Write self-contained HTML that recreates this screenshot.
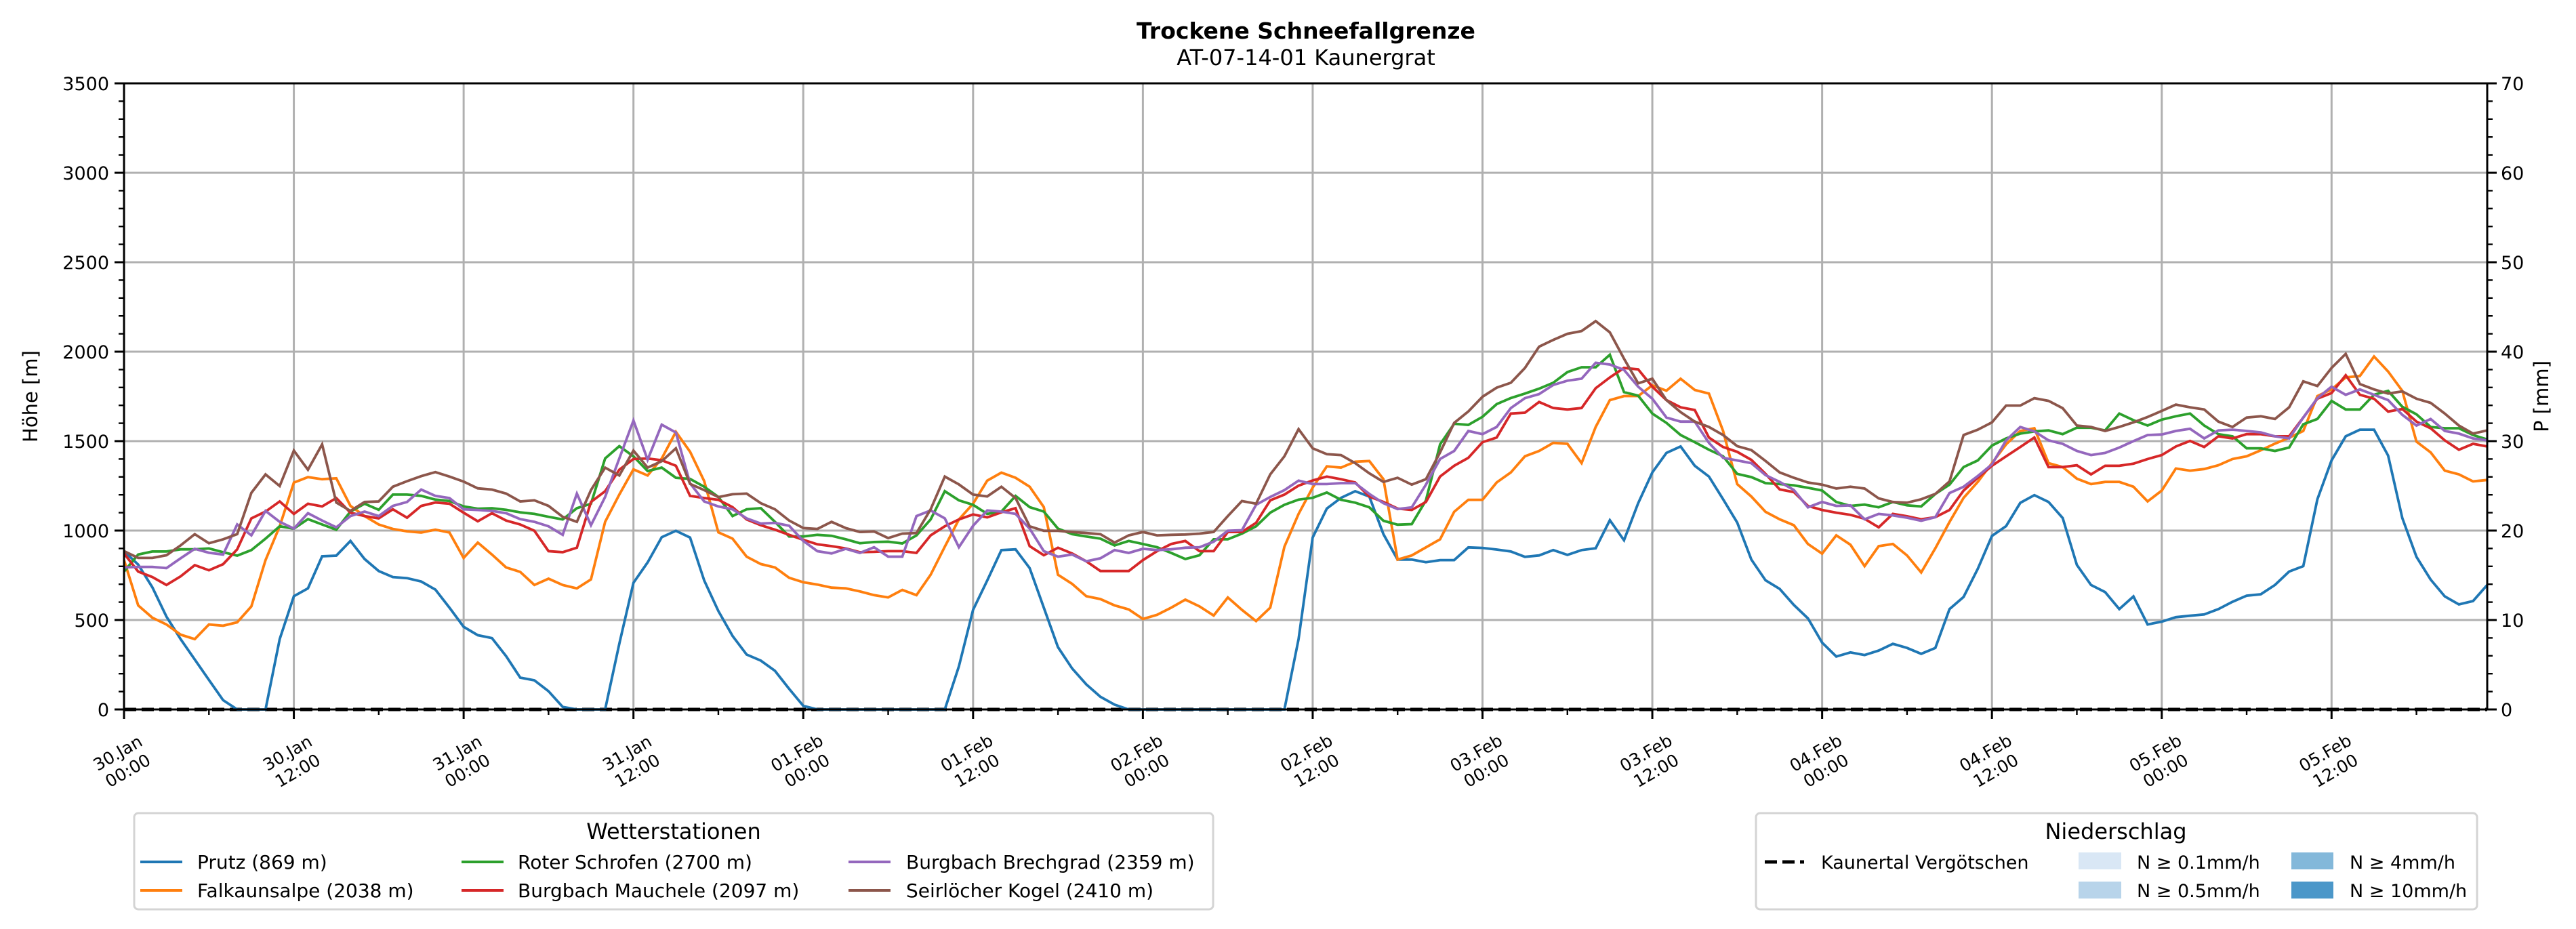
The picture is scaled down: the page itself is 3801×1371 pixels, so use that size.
<!DOCTYPE html>
<html><head><meta charset="utf-8">
<style>
html,body{margin:0;padding:0;background:#fff;}
svg{display:block;font-family:"DejaVu Sans","Liberation Sans",sans-serif;}
</style></head>
<body>
<svg id="chart" xmlns="http://www.w3.org/2000/svg" width="3801" height="1371" viewBox="0 0 3801 1371">
<rect x="0" y="0" width="3801" height="1371" fill="#fff"/>
<text x="1927" y="57" text-anchor="middle" font-size="33" font-weight="bold">Trockene Schneefallgrenze</text>
<text x="1927" y="96" text-anchor="middle" font-size="32">AT-07-14-01 Kaunergrat</text>
<text transform="translate(55,585) rotate(-90)" text-anchor="middle" font-size="29">Höhe [m]</text>
<text transform="translate(3760,585) rotate(-90)" text-anchor="middle" font-size="29">P [mm]</text>
<g id="grid"></g>
<g id="series"></g>
<g id="axes"></g>

<g>
<rect x="198" y="1200" width="1592" height="142" rx="6" fill="#fff" stroke="#d4d4d4" stroke-width="3"/>
<text x="994" y="1238" text-anchor="middle" font-size="32">Wetterstationen</text>
<line x1="207" y1="1272" x2="269" y2="1272" stroke="#1f77b4" stroke-width="4"/>
<text x="291" y="1282" font-size="28">Prutz (869 m)</text>
<line x1="207" y1="1314" x2="269" y2="1314" stroke="#ff7f0e" stroke-width="4"/>
<text x="291" y="1324" font-size="28">Falkaunsalpe (2038 m)</text>
<line x1="681" y1="1272" x2="743" y2="1272" stroke="#2ca02c" stroke-width="4"/>
<text x="764" y="1282" font-size="28">Roter Schrofen (2700 m)</text>
<line x1="681" y1="1314" x2="743" y2="1314" stroke="#d62728" stroke-width="4"/>
<text x="764" y="1324" font-size="28">Burgbach Mauchele (2097 m)</text>
<line x1="1252" y1="1272" x2="1314" y2="1272" stroke="#9467bd" stroke-width="4"/>
<text x="1337" y="1282" font-size="28">Burgbach Brechgrad (2359 m)</text>
<line x1="1252" y1="1314" x2="1314" y2="1314" stroke="#8c564b" stroke-width="4"/>
<text x="1337" y="1324" font-size="28">Seirlöcher Kogel (2410 m)</text>
</g>

<g>
<rect x="2591" y="1200" width="1064" height="142" rx="6" fill="#fff" stroke="#d4d4d4" stroke-width="3"/>
<text x="3122" y="1238" text-anchor="middle" font-size="32">Niederschlag</text>
<line x1="2604" y1="1272" x2="2662" y2="1272" stroke="#000" stroke-width="5" stroke-dasharray="18,8"/>
<text x="2687" y="1282" font-size="27">Kaunertal Vergötschen</text>
<rect x="3067" y="1258" width="63" height="25" fill="#d9e7f5"/>
<text x="3153" y="1282" font-size="27">N ≥ 0.1mm/h</text>
<rect x="3067" y="1301" width="63" height="25" fill="#b8d4ea"/>
<text x="3153" y="1324" font-size="27">N ≥ 0.5mm/h</text>
<rect x="3381" y="1258" width="62" height="25" fill="#83b8da"/>
<text x="3467" y="1282" font-size="27">N ≥ 4mm/h</text>
<rect x="3381" y="1301" width="62" height="25" fill="#4b97c9"/>
<text x="3467" y="1324" font-size="27">N ≥ 10mm/h</text>
</g>
</svg>
<script>
const xTickLabels = [["30.Jan","00:00"],["30.Jan","12:00"],["31.Jan","00:00"],["31.Jan","12:00"],["01.Feb","00:00"],["01.Feb","12:00"],["02.Feb","00:00"],["02.Feb","12:00"],["03.Feb","00:00"],["03.Feb","12:00"],["04.Feb","00:00"],["04.Feb","12:00"],["05.Feb","00:00"],["05.Feb","12:00"]];
const yTicks = [0,500,1000,1500,2000,2500,3000,3500];
const y2Ticks = [0,10,20,30,40,50,60,70];
const seriesNames = ["prutz","falkaunsalpe","roter-schrofen","burgbach-mauchele","burgbach-brechgrad","seirloecher-kogel"];
const seriesColors = ["#1f77b4","#ff7f0e","#2ca02c","#d62728","#9467bd","#8c564b"];
const prutz = [885,810,683,519,393,279,165,52,0,0,0,393,633,677,856,860,942,841,774,740,734,715,670,569,462,415,399,298,178,163,102,14,0,0,0,367,708,822,963,999,961,721,550,411,307,273,216,115,20,0,0,0,0,0,0,0,0,0,0,241,557,721,891,895,790,569,348,229,140,71,27,0,0,0,0,0,0,0,0,0,0,0,0,393,961,1123,1183,1220,1190,980,838,838,823,835,835,906,903,894,883,853,861,891,864,891,901,1058,946,1153,1325,1434,1470,1362,1302,1175,1045,838,722,674,584,509,374,296,319,304,329,367,344,311,344,561,629,786,970,1025,1155,1198,1160,1070,808,696,656,561,632,475,491,516,524,531,561,602,636,644,696,771,801,1175,1392,1527,1564,1564,1419,1070,853,726,632,587,606,696];
const falkaunsalpe = [835,582,513,475,418,393,475,468,487,576,835,1024,1268,1299,1287,1292,1138,1081,1034,1009,996,989,1005,989,847,933,866,794,769,696,731,696,677,727,1049,1201,1342,1308,1403,1552,1441,1276,990,955,854,813,794,736,711,698,681,677,660,639,626,668,639,753,910,1062,1150,1279,1324,1295,1245,1131,753,702,633,617,582,559,506,529,569,614,576,525,626,557,494,569,910,1093,1240,1359,1352,1385,1389,1287,838,861,906,951,1105,1172,1172,1269,1325,1415,1445,1490,1485,1377,1579,1729,1752,1752,1812,1782,1849,1786,1766,1557,1260,1190,1105,1063,1030,925,871,973,921,801,913,925,861,766,901,1048,1183,1272,1377,1482,1557,1572,1377,1355,1290,1260,1272,1272,1245,1163,1224,1347,1335,1344,1365,1400,1415,1449,1486,1519,1557,1752,1789,1856,1864,1973,1889,1781,1497,1437,1335,1314,1275,1283];
const roterSchrofen = [771,866,883,883,895,895,900,879,860,891,955,1024,1011,1064,1034,1005,1106,1150,1116,1201,1201,1194,1173,1165,1135,1122,1125,1116,1102,1093,1077,1062,1125,1150,1403,1472,1415,1333,1352,1295,1289,1245,1188,1081,1119,1125,1049,967,967,976,971,951,929,936,938,928,973,1062,1220,1169,1144,1093,1106,1194,1131,1106,1011,980,967,955,917,942,925,907,875,841,862,951,951,983,1024,1100,1144,1173,1183,1213,1172,1156,1130,1055,1033,1036,1168,1482,1597,1591,1636,1707,1741,1766,1793,1826,1886,1913,1913,1983,1774,1754,1654,1602,1534,1494,1452,1415,1317,1299,1265,1260,1253,1239,1224,1160,1138,1145,1130,1160,1141,1135,1205,1257,1355,1392,1475,1515,1542,1554,1560,1539,1575,1575,1560,1654,1617,1587,1620,1639,1654,1587,1539,1527,1460,1460,1445,1464,1594,1624,1725,1677,1677,1759,1781,1692,1650,1579,1572,1572,1534,1509];
const burgbachMauchele = [872,771,740,696,744,807,778,812,895,1068,1106,1163,1093,1150,1135,1182,1100,1081,1068,1119,1072,1138,1157,1150,1100,1052,1097,1056,1034,999,885,879,904,1160,1220,1340,1400,1403,1393,1362,1194,1182,1172,1131,1062,1030,1005,976,948,923,913,900,879,881,885,885,875,973,1024,1062,1090,1074,1102,1125,913,862,904,872,828,774,774,774,835,885,925,942,885,885,992,992,1043,1169,1201,1251,1280,1302,1287,1269,1190,1160,1123,1115,1160,1302,1362,1407,1494,1520,1654,1659,1719,1685,1677,1685,1796,1856,1909,1901,1804,1729,1689,1674,1520,1467,1440,1395,1317,1230,1215,1138,1115,1100,1088,1066,1018,1093,1080,1063,1075,1115,1224,1295,1362,1415,1467,1520,1355,1355,1365,1314,1362,1362,1374,1400,1422,1470,1501,1467,1527,1515,1539,1539,1527,1527,1632,1737,1769,1868,1759,1737,1665,1680,1609,1572,1504,1452,1485,1470];
const burgbachBrechgrad = [794,797,797,790,845,898,876,866,1034,973,1110,1049,1011,1097,1056,1018,1081,1106,1081,1138,1160,1229,1194,1182,1119,1115,1110,1097,1064,1049,1024,976,1207,1030,1188,1403,1615,1396,1592,1548,1264,1163,1135,1119,1068,1039,1043,1027,942,885,872,898,875,907,854,854,1081,1112,1068,907,1027,1112,1106,1093,1011,885,854,866,828,845,891,875,898,891,895,904,907,938,999,1002,1144,1188,1226,1279,1260,1260,1265,1265,1205,1153,1120,1130,1257,1400,1445,1557,1539,1579,1685,1740,1763,1814,1838,1849,1938,1928,1898,1804,1737,1632,1609,1609,1490,1407,1392,1377,1310,1272,1227,1130,1160,1138,1141,1063,1093,1085,1072,1055,1075,1210,1245,1305,1370,1504,1579,1554,1504,1485,1445,1422,1434,1464,1500,1534,1537,1557,1569,1515,1560,1564,1557,1549,1527,1515,1632,1740,1804,1759,1789,1759,1729,1647,1587,1624,1557,1542,1515,1504];
const seirloecherKogel = [885,847,847,862,917,980,929,951,980,1211,1314,1249,1447,1340,1482,1157,1110,1160,1163,1245,1276,1304,1327,1302,1274,1236,1229,1207,1163,1169,1138,1077,1049,1226,1352,1308,1447,1352,1388,1460,1261,1226,1187,1203,1207,1153,1119,1056,1014,1009,1049,1014,992,995,958,983,986,1119,1302,1258,1201,1191,1245,1182,1024,999,999,992,986,980,933,973,992,973,976,978,983,992,1081,1165,1150,1314,1415,1567,1460,1427,1422,1377,1320,1272,1295,1257,1287,1437,1602,1666,1748,1799,1826,1909,2028,2066,2100,2115,2171,2108,1961,1823,1849,1729,1662,1609,1579,1534,1472,1450,1389,1325,1295,1269,1257,1235,1245,1235,1180,1160,1156,1175,1205,1275,1534,1564,1605,1699,1699,1740,1725,1684,1587,1579,1557,1579,1605,1635,1669,1704,1689,1677,1609,1579,1632,1639,1624,1689,1834,1808,1909,1988,1819,1789,1766,1778,1737,1714,1654,1587,1542,1560];
const kaunertalPrecip = new Array(168).fill(0);

const NS = "http://www.w3.org/2000/svg";
const L = 183, R = 3670, T = 123, B = 1047;
const nHours = 167;
function xScale(h){ return L + (R - L) * h / nHours; }
function yScale(v){ return B - (B - T) * v / 3500; }
function y2Scale(v){ return B - (B - T) * v / 70; }
function mk(tag, attrs, parent){
  const e = document.createElementNS(NS, tag);
  for (const k in attrs) e.setAttribute(k, attrs[k]);
  parent.appendChild(e);
  return e;
}
const grid = document.getElementById("grid");
const axes = document.getElementById("axes");
const sg = document.getElementById("series");

yTicks.forEach(function(v){
  const g = mk("line", {x1:L, x2:R, y1:yScale(v), y2:yScale(v), stroke:"#b0b0b0", "stroke-width":3}, grid);
  
  
});
xTickLabels.forEach(function(lbl, i){
  const x = xScale(i * 12);
  const g = mk("line", {x1:x, x2:x, y1:T, y2:B, stroke:"#b0b0b0", "stroke-width":3}, grid);
  
  
});

const pPts = kaunertalPrecip.map(function(v, i){ return xScale(i).toFixed(1) + "," + y2Scale(v).toFixed(1); }).join(" ");
const pLine = mk("polyline", {points:pPts, fill:"none", stroke:"#000", "stroke-width":5, "stroke-dasharray":"18,8"}, sg);



const allSeries = [prutz, falkaunsalpe, roterSchrofen, burgbachMauchele, burgbachBrechgrad, seirloecherKogel];
allSeries.forEach(function(arr, s){
  const pts = arr.map(function(v, i){ return xScale(i).toFixed(1) + "," + yScale(v).toFixed(1); }).join(" ");
  const pl = mk("polyline", {points:pts, fill:"none", stroke:seriesColors[s], "stroke-width":3.8, "stroke-linejoin":"miter"}, sg);
  
  
});

const frame = mk("rect", {x:L, y:T, width:R-L, height:B-T, fill:"none", stroke:"#000", "stroke-width":3}, axes);



for (let v = 0; v <= 3500; v += 100) {
  const major = v % 500 === 0;
  const t = mk("line", {x1:L, x2:L - (major ? 14 : 8), y1:yScale(v), y2:yScale(v), stroke:"#000", "stroke-width":major ? 3 : 2.4}, axes);
  
  
}
yTicks.forEach(function(v){
  const t = mk("text", {x:L - 22, y:yScale(v) + 10, "text-anchor":"end", "font-size":27}, axes);
  t.textContent = String(v);
  
  
});
for (let v = 0; v <= 70; v += 2) {
  const major = v % 10 === 0;
  const t = mk("line", {x1:R, x2:R + (major ? 14 : 8), y1:y2Scale(v), y2:y2Scale(v), stroke:"#000", "stroke-width":major ? 3 : 2.4}, axes);
  
  
}
y2Ticks.forEach(function(v){
  const t = mk("text", {x:R + 20, y:y2Scale(v) + 10, "text-anchor":"start", "font-size":27}, axes);
  t.textContent = String(v);
  
  
});
for (let h = 0; h <= nHours; h += 6) {
  const major = h % 12 === 0;
  const x = xScale(h);
  const t = mk("line", {x1:x, x2:x, y1:B, y2:B + (major ? 14 : 8), stroke:"#000", "stroke-width":major ? 3 : 2.4}, axes);
  
  
}
xTickLabels.forEach(function(lbl, i){
  const x = xScale(i * 12);
  const g = mk("g", {transform:"translate(" + (x - 2) + ",1124) rotate(-30)"}, axes);
  
  
  const t1 = mk("text", {x:0, y:-6, "text-anchor":"middle", "font-size":25}, g);
  t1.textContent = lbl[0];
  
  
  const t2 = mk("text", {x:0, y:24, "text-anchor":"middle", "font-size":25}, g);
  t2.textContent = lbl[1];
  
  
});
</script>
</body></html>
